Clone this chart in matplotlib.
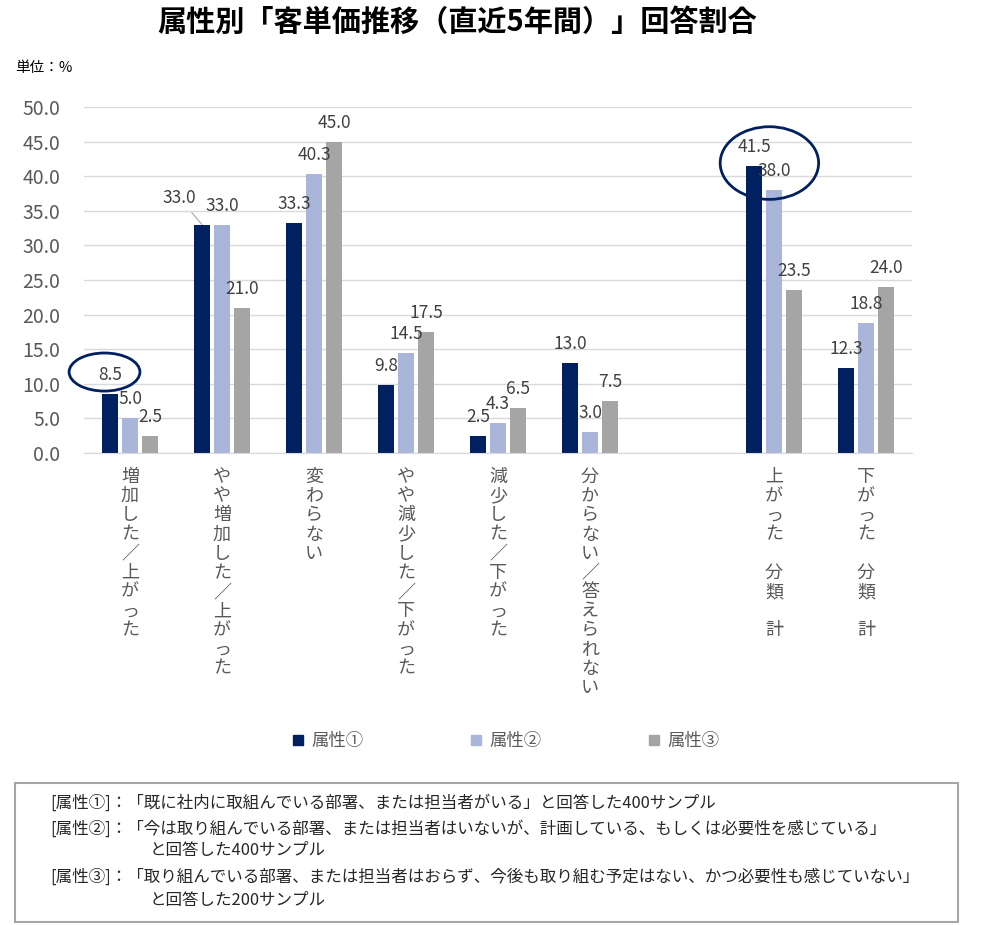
import numpy as np
import matplotlib
matplotlib.use("Agg")
import matplotlib.pyplot as plt
from matplotlib.patches import Ellipse, Rectangle
from matplotlib.lines import Line2D

plt.rcParams['font.family'] = ['Noto Sans CJK JP', 'DejaVu Sans']

# データ
categories = ["増加した／上がった", "やや増加した／上がった", "変わらない",
              "やや減少した／下がった", "減少した／下がった", "分からない／答えられない",
              "上がった　分類　計", "下がった　分類　計"]
attr1 = [8.5, 33.0, 33.3, 9.8, 2.5, 13.0, 41.5, 12.3]
attr2 = [5.0, 33.0, 40.3, 14.5, 4.3, 3.0, 38.0, 18.8]
attr3 = [2.5, 21.0, 45.0, 17.5, 6.5, 7.5, 23.5, 24.0]
series_names = ["属性①", "属性②", "属性③"]
yticks = [0, 5, 10, 15, 20, 25, 30, 35, 40, 45, 50]
notes = [
    "[属性①]：「既に社内に取組んでいる部署、または担当者がいる」と回答した400サンプル",
    "[属性②]：「今は取り組んでいる部署、または担当者はいないが、計画している、もしくは必要性を感じている」",
    "と回答した400サンプル",
    "[属性③]：「取り組んでいる部署、または担当者はおらず、今後も取り組む予定はない、かつ必要性も感じていない」",
    "と回答した200サンプル",
]

colors = ["#002060", "#A9B6DA", "#A5A5A5"]
W, H = 1006, 925

fig = plt.figure(figsize=(W / 100, H / 100), dpi=100)
ax = fig.add_axes([84 / W, 1 - 453 / H, 828 / W, 346 / H])

# 分類計の前に1枠あける
x = np.arange(len(categories), dtype=float)
x[6:] += 1

bar_w = 0.174
step = 0.217
for k, vals in enumerate([attr1, attr2, attr3]):
    xs = x + (k - 1) * step
    ax.bar(xs, vals, width=bar_w, color=colors[k], zorder=2)
    for j, (xi, v) in enumerate(zip(xs, vals)):
        if k == 0 and j == 1:
            # 引き出し線付きラベル
            ax.annotate(f"{v:.1f}", xy=(xi, v), xytext=(-16.5, 19.5), textcoords='offset points',
                        ha='center', va='center', fontsize=12.5, color='#404040',
                        arrowprops=dict(arrowstyle='-', color='#A6A6A6', lw=0.8, shrinkA=3, shrinkB=0))
        else:
            ax.annotate(f"{v:.1f}", xy=(xi, v), xytext=(0, 13.7), textcoords='offset points',
                        ha='center', va='center', fontsize=12.5, color='#404040')

ax.set_xlim(-0.5, 8.5)
ax.set_ylim(0, 50)
ax.set_yticks(yticks)
ax.set_yticklabels([f"{t:.1f}" for t in yticks], fontsize=14, color='#595959')
ax.tick_params(axis='y', length=0, pad=17)
ax.set_xticks([])
ax.yaxis.grid(True, color='#D9D9D9', lw=1)
ax.set_axisbelow(True)
for s in ['top', 'right', 'left']:
    ax.spines[s].set_visible(False)
ax.spines['bottom'].set_color('#D9D9D9')

# 縦書きのカテゴリラベル
for xi, label in zip(x, categories):
    for j, ch in enumerate(label):
        if ch.strip() == "":
            continue
        ax.annotate(ch, xy=(xi, 0), xycoords=('data', 'axes fraction'),
                    xytext=(0, -17.3 - j * 13.8), textcoords='offset points',
                    ha='center', va='center', fontsize=13, color='#595959',
                    annotation_clip=False)

# 丸囲み
ax.add_patch(Ellipse((-0.277, 11.7), 0.77, 5.5, fill=False, ec='#002060', lw=2, clip_on=False, zorder=5))
ax.add_patch(Ellipse((6.95, 41.9), 1.07, 10.5, fill=False, ec='#002060', lw=2, clip_on=False, zorder=5))

fig.text(457 / W, 1 - 22 / H, "属性別「客単価推移（直近5年間）」回答割合",
         ha='center', va='center', fontsize=21, fontweight='bold')
fig.text(15 / W, 1 - 68 / H, "単位：%", ha='left', va='center', fontsize=10.5)

handles = [Line2D([], [], marker='s', ls='', markersize=7, color=c) for c in colors]
fig.legend(handles, series_names, loc='center', bbox_to_anchor=(505 / W, 1 - 741 / H),
           ncol=3, frameon=False, fontsize=12.5, labelcolor='#595959',
           handlelength=0.8, handletextpad=0.35, columnspacing=6.1, borderpad=0)

# 注記ボックス
fig.patches.append(Rectangle((15 / W, 1 - 922 / H), 943 / W, 139 / H, transform=fig.transFigure,
                             fill=False, ec='#A6A6A6', lw=1.5))
note_y = [803, 829, 851, 877, 900]
note_x = [50, 50, 150, 50, 150]
for t, yy, xx in zip(notes, note_y, note_x):
    fig.text(xx / W, 1 - yy / H, t, ha='left', va='center', fontsize=11.9, color='#262626')

fig.savefig("out.png", dpi=100)
